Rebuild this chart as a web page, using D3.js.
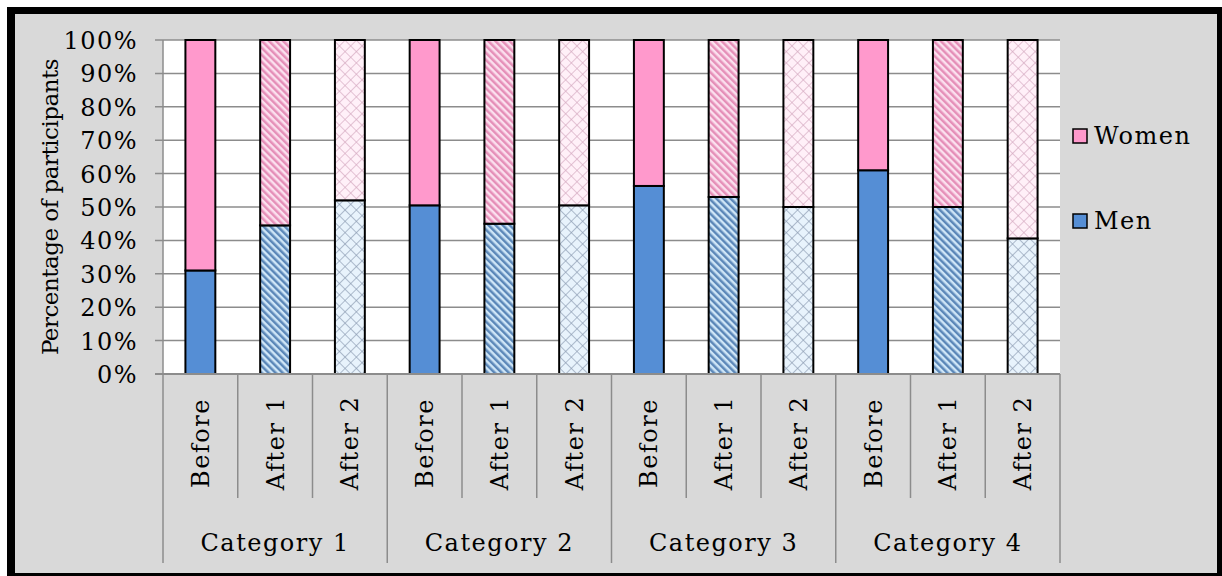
<!DOCTYPE html>
<html>
<head>
<meta charset="utf-8">
<script src="https://cdn.jsdelivr.net/npm/d3@7"></script>
<style>
  body { margin: 0; background: #ffffff; }
  svg { display: block; }
  text { font-family: "DejaVu Serif", "Liberation Serif", serif; fill: #000; }
</style>
</head>
<body>
<svg id="chart" width="1222" height="576"></svg>
<script>
// ---- data ----
const categories = ["Category 1", "Category 2", "Category 3", "Category 4"];
const phases = ["Before", "After 1", "After 2"];
const menValues = [
  [31, 44.5, 52],
  [50.5, 45, 50.5],
  [56.3, 53, 50],
  [61, 50, 40.6]
];
const womenValues = menValues.map(r => r.map(v => 100 - v));
const seriesNames = ["Women", "Men"];
const yTicks = [0, 10, 20, 30, 40, 50, 60, 70, 80, 90, 100];

// ---- layout ----
const svg = d3.select("#chart");
const W = 1222, H = 576;
const plot = { left: 163, right: 1060, top: 40, bottom: 374 };
const FS = 24, LS = "1.5px";

// frame
svg.append("rect").attr("x", 7).attr("y", 7).attr("width", W - 7).attr("height", H - 7).attr("fill", "#000");
svg.append("rect").attr("x", 15).attr("y", 14).attr("width", 1202).attr("height", 559).attr("fill", "#d9d9d9");

// patterns
const defs = svg.append("defs");
function stripes(id, bg, fg) {
  const p = defs.append("pattern").attr("id", id).attr("patternUnits", "userSpaceOnUse")
    .attr("width", 5).attr("height", 5).attr("patternTransform", "rotate(-45)");
  p.append("rect").attr("width", 5).attr("height", 5).attr("fill", bg);
  p.append("rect").attr("x", 0).attr("width", 2.5).attr("height", 5).attr("fill", fg);
}
function cross(id, bg, fg) {
  const p = defs.append("pattern").attr("id", id).attr("patternUnits", "userSpaceOnUse")
    .attr("width", 8).attr("height", 8).attr("patternTransform", "rotate(45)");
  p.append("rect").attr("width", 8).attr("height", 8).attr("fill", bg);
  p.append("line").attr("x1", 0).attr("y1", 0).attr("x2", 8).attr("y2", 0).attr("stroke", fg).attr("stroke-width", 1.3);
  p.append("line").attr("x1", 0).attr("y1", 0).attr("x2", 0).attr("y2", 8).attr("stroke", fg).attr("stroke-width", 1.3);
}
stripes("menStripe", "#cfe6f7", "#5b87b8");
stripes("womenStripe", "#fbe0ee", "#e58fb8");
cross("menCross", "#e8f3fc", "#8a9ab0");
cross("womenCross", "#fff0f8", "#d4a8c0");

const fills = {
  Men: ["#558ed5", "url(#menStripe)", "url(#menCross)"],
  Women: ["#ff99cc", "url(#womenStripe)", "url(#womenCross)"]
};

// scales
const slots = [];
categories.forEach((c, ci) => phases.forEach((p, pi) => slots.push({ c, ci, p, pi, key: c + "|" + p })));
const x = d3.scaleBand().domain(slots.map(s => s.key)).range([plot.left, plot.right]).paddingInner(0.6).paddingOuter(0.3);
const y = d3.scaleLinear().domain([0, 100]).range([plot.bottom, plot.top]);

// plot area
svg.append("rect").attr("x", plot.left).attr("y", plot.top).attr("width", plot.right - plot.left)
  .attr("height", plot.bottom - plot.top).attr("fill", "#fff");

// gridlines
svg.append("g").selectAll("line").data(yTicks).join("line")
  .attr("x1", plot.left - 8).attr("x2", plot.right)
  .attr("y1", d => y(d)).attr("y2", d => y(d))
  .attr("stroke", "#8c8c8c").attr("stroke-width", 1.5);

// y axis
const yAxis = svg.append("g").attr("transform", `translate(${plot.left},0)`)
  .call(d3.axisLeft(y).tickValues(yTicks).tickFormat(d => d + "%").tickSize(0).tickPadding(25));
yAxis.select(".domain").remove();
yAxis.selectAll("text").attr("font-size", FS).attr("font-family", "DejaVu Serif").attr("fill", "#000")
  .attr("dy", "0.35em").style("letter-spacing", LS);

// y title
svg.append("text").attr("transform", `translate(58,${(plot.top + plot.bottom) / 2}) rotate(-90)`)
  .attr("text-anchor", "middle").attr("font-size", 23).style("letter-spacing", "-0.5px")
  .text("Percentage of participants");

// bars
const barData = slots.map(s => ({
  ...s, men: menValues[s.ci][s.pi], women: womenValues[s.ci][s.pi]
}));
const bars = svg.append("g");
barData.forEach(d => {
  bars.append("rect").attr("x", x(d.key)).attr("width", x.bandwidth())
    .attr("y", y(d.men)).attr("height", y(0) - y(d.men))
    .attr("fill", fills.Men[d.pi]).attr("stroke", "#000").attr("stroke-width", 2);
  bars.append("rect").attr("x", x(d.key)).attr("width", x.bandwidth())
    .attr("y", y(100)).attr("height", y(d.men) - y(100))
    .attr("fill", fills.Women[d.pi]).attr("stroke", "#000").attr("stroke-width", 2);
});

// x axis: multi-level
const step = x.step();
const xg = svg.append("g");
xg.append("line").attr("x1", plot.left - 8).attr("x2", plot.right).attr("y1", plot.bottom).attr("y2", plot.bottom)
  .attr("stroke", "#8c8c8c").attr("stroke-width", 2);
xg.append("line").attr("x1", plot.left).attr("x2", plot.left).attr("y1", plot.top).attr("y2", 563)
  .attr("stroke", "#8c8c8c").attr("stroke-width", 1.5);
slots.forEach((s, i) => {
  if (i === 0) return;
  const xx = plot.left + i * step;
  xg.append("line").attr("x1", xx).attr("x2", xx).attr("y1", plot.bottom)
    .attr("y2", s.pi === 0 ? 563 : 498).attr("stroke", "#8c8c8c").attr("stroke-width", 1.5);
});
xg.append("line").attr("x1", plot.right).attr("x2", plot.right).attr("y1", plot.bottom).attr("y2", 563)
  .attr("stroke", "#8c8c8c").attr("stroke-width", 1.5);
// phase labels
xg.selectAll("text.phase").data(slots).join("text").attr("class", "phase")
  .attr("transform", d => `translate(${x(d.key) + x.bandwidth() / 2},443) rotate(-90)`)
  .attr("text-anchor", "middle").attr("dy", "0.35em").attr("font-size", FS).style("letter-spacing", LS).text(d => d.p);
// category labels
xg.selectAll("text.cat").data(categories).join("text").attr("class", "cat")
  .attr("x", (d, i) => plot.left + (i * 3 + 1.5) * step).attr("y", 551)
  .attr("text-anchor", "middle").attr("font-size", FS).style("letter-spacing", LS).text(d => d);

// legend
const legend = svg.append("g");
const legendY = { Women: 136, Men: 221 };
seriesNames.forEach(n => {
  legend.append("rect").attr("x", 1073).attr("y", legendY[n] - 7).attr("width", 14).attr("height", 14)
    .attr("fill", fills[n][0]).attr("stroke", "#000").attr("stroke-width", 1.5);
  legend.append("text").attr("x", 1094).attr("y", legendY[n]).attr("dy", "0.35em")
    .attr("font-size", FS).style("letter-spacing", LS).text(n);
});
</script>
</body>
</html>
